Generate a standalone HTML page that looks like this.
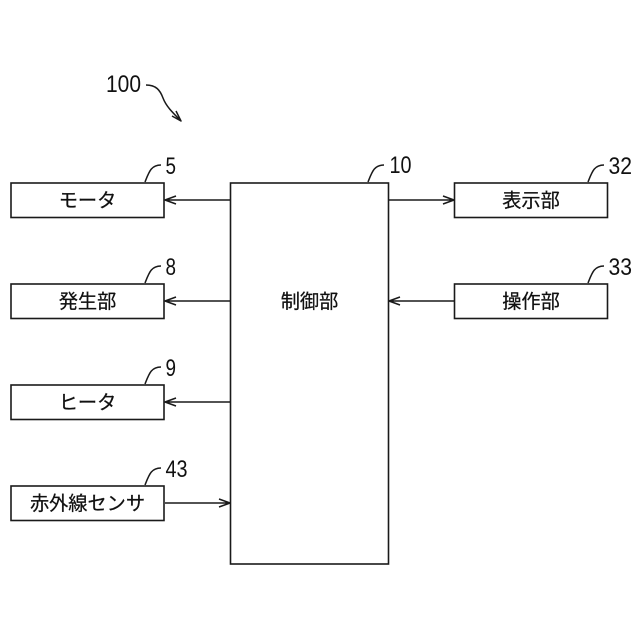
<!DOCTYPE html>
<html><head><meta charset="utf-8"><style>
html,body{margin:0;padding:0;background:#fff}
svg{display:block}
text{font-family:"Liberation Sans","Noto Sans CJK JP",sans-serif;fill:#111}
.b{fill:#fff;stroke:#1a1a1a;stroke-width:1.6}
.l{fill:none;stroke:#1a1a1a;stroke-width:1.5;stroke-linejoin:round}
.t{font-size:19.2px;text-anchor:middle;stroke:#111;stroke-width:.25}
.n{font-size:24.5px}
</style></head><body>
<svg width="640" height="640" viewBox="0 0 640 640">
<rect class="b" x="11" y="183" width="153" height="34.5"/>
<rect class="b" x="11" y="284" width="153" height="34.5"/>
<rect class="b" x="11" y="385" width="153" height="34.5"/>
<rect class="b" x="11" y="486" width="153" height="34.5"/>
<rect class="b" x="230.500" y="183" width="158" height="381"/>
<rect class="b" x="454.500" y="183" width="153" height="34.5"/>
<rect class="b" x="454.500" y="284" width="153" height="34.5"/>
<path class="l" d="M230 200H165M176 196L165 200L176 204"/>
<path class="l" d="M230 301H165M176 297L165 301L176 305"/>
<path class="l" d="M230 402H165M176 398L165 402L176 406"/>
<path class="l" d="M165 503H230M219 499L230 503L219 507"/>
<path class="l" d="M389 200H454M443 196L454 200L443 204"/>
<path class="l" d="M454 301H389M400 297L389 301L400 305"/>
<path class="l" d="M145 182C149 172 151 165 161 165"/>
<path class="l" d="M145 283C149 273 151 266 161 266"/>
<path class="l" d="M145 384C149 374 151 367 161 367"/>
<path class="l" d="M145 485C149 475 151 468 161 468"/>
<path class="l" d="M368 182C372 172 374 165 384 165"/>
<path class="l" d="M588 182C592 172 594 165 604 165"/>
<path class="l" d="M588 283C592 273 594 266 604 266"/>
<path class="l" d="M146 85C156 85 160 90 163 98C166 106 172 112 181 121M172 116L181 121L176 111"/>
<text class="t" x="87.500" y="207">モータ</text>
<text class="t" x="87.500" y="308">発生部</text>
<text class="t" x="87.500" y="409">ヒータ</text>
<text class="t" x="87.500" y="510">赤外線センサ</text>
<text class="t" x="309.500" y="308">制御部</text>
<text class="t" x="531" y="207">表示部</text>
<text class="t" x="531" y="308">操作部</text>
<text class="n" x="106" y="92" textLength="35" lengthAdjust="spacingAndGlyphs">100</text>
<text class="n" x="165.500" y="174" textLength="10.500" lengthAdjust="spacingAndGlyphs">5</text>
<text class="n" x="165.500" y="275" textLength="10.500" lengthAdjust="spacingAndGlyphs">8</text>
<text class="n" x="165.500" y="376" textLength="10.500" lengthAdjust="spacingAndGlyphs">9</text>
<text class="n" x="165.500" y="477" textLength="22" lengthAdjust="spacingAndGlyphs">43</text>
<text class="n" x="389.500" y="173" textLength="22" lengthAdjust="spacingAndGlyphs">10</text>
<text class="n" x="608.500" y="174" textLength="23.500" lengthAdjust="spacingAndGlyphs">32</text>
<text class="n" x="608.500" y="275" textLength="23.500" lengthAdjust="spacingAndGlyphs">33</text>
</svg>
</body></html>
